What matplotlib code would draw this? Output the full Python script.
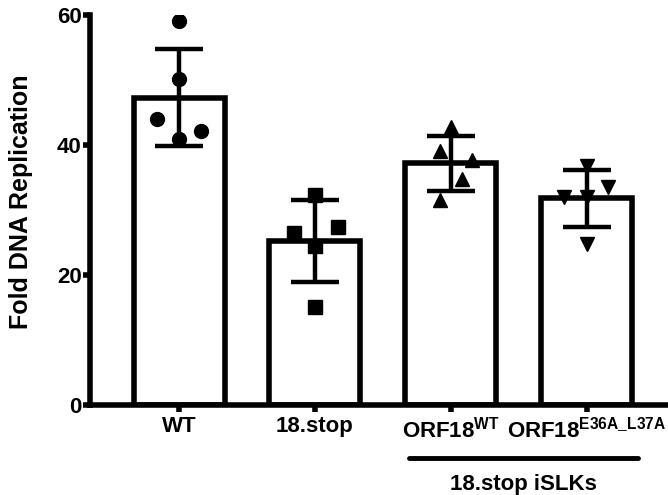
import matplotlib
matplotlib.use("Agg")
import matplotlib.pyplot as plt
import matplotlib.transforms as mtransforms
import numpy as np

plt.rcParams['font.family'] = ['Liberation Sans', 'DejaVu Sans']
plt.rcParams['font.weight'] = 'bold'
plt.rcParams['mathtext.fontset'] = 'custom'
plt.rcParams['mathtext.rm'] = 'Liberation Sans:bold'
plt.rcParams['mathtext.bf'] = 'Liberation Sans:bold'
plt.rcParams['mathtext.it'] = 'Liberation Sans:bold'
plt.rcParams['mathtext.sf'] = 'Liberation Sans:bold'

# data
groups = ['WT', '18.stop', r'ORF18$^{\mathrm{WT}}$', r'ORF18$^{\mathrm{E36A\_L37A}}$']
wt = [59.1, 50.2, 44.0, 42.2, 40.9]
stop = [32.3, 26.5, 27.4, 24.5, 15.1]
orf_wt = [42.8, 39.1, 37.7, 34.7, 31.6]
orf_mut = [36.7, 33.6, 32.0, 32.0, 24.7]
yticks = [0, 20, 40, 60]

# horizontal scatter of the points within each bar
jit_wt = [0, 0, -0.16, 0.16, 0]
jit_stop = [0, -0.155, 0.17, 0, 0]
jit_orf_wt = [0, -0.08, 0.16, 0.08, -0.08]
jit_orf_mut = [0, 0.155, -0.165, 0, 0]

series = [wt, stop, orf_wt, orf_mut]
jits = [jit_wt, jit_stop, jit_orf_wt, jit_orf_mut]
markers = ['o', 's', '^', 'v']

means = [np.mean(s) for s in series]
sds = [np.std(s, ddof=1) for s in series]
x = np.arange(len(groups))

fig = plt.figure(figsize=(6.68, 4.95), dpi=100)
ax = fig.add_axes([90/668, 90/495, 578/668, 390/495])

ax.bar(x, means, width=0.67, color='white', edgecolor='black', linewidth=4, zorder=2)
ax.errorbar(x, means, yerr=sds, fmt='none', ecolor='black', elinewidth=3.2,
            capsize=17, capthick=3.2, zorder=3)
for i in range(len(series)):
    ax.plot(x[i] + np.array(jits[i]), series[i], linestyle='none', marker=markers[i],
            color='black', markersize=10, zorder=4)

ax.set_xlim(-0.656, 3.6)
ax.set_ylim(0, 60)
ax.set_yticks(yticks)
ax.set_xticks(x)
ax.set_xticklabels(groups)

for s in ['top', 'right']:
    ax.spines[s].set_visible(False)
for s in ['left', 'bottom']:
    ax.spines[s].set_linewidth(4)
    ax.spines[s].set_capstyle('projecting')
ax.tick_params(axis='both', width=4, length=5, labelsize=16)
ax.tick_params(axis='y', pad=1)
ax.tick_params(axis='x', pad=3)

fig.text(21/668, 0.593, 'Fold DNA Replication', rotation=90, ha='center', va='center',
         fontsize=18, fontweight='bold')

# group bracket under the two ORF18 bars
trans = mtransforms.blended_transform_factory(ax.transData, ax.transAxes)
ax.plot([1.695, 3.38], [-0.136, -0.136], color='black', linewidth=3.5,
        solid_capstyle='round', transform=trans, clip_on=False)
ax.text(2.535, -0.203, '18.stop iSLKs', transform=trans, ha='center', va='center',
        fontsize=16, fontweight='bold')

fig.savefig('out.png', dpi=100)
